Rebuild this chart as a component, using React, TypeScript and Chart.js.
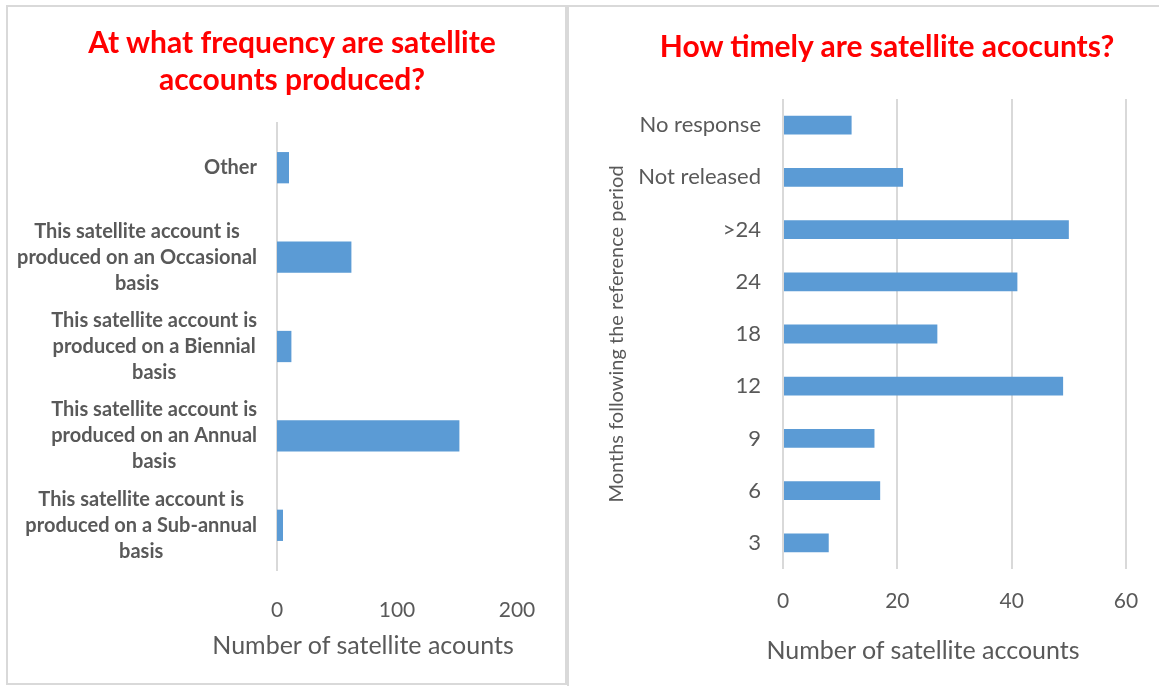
import React, { useEffect, useRef } from "react";
import { Chart, registerables } from "chart.js";

Chart.register(...registerables);

// ---------- data ----------
const freqCategories: string[][] = [
  ["Other"],
  ["This satellite account is", "produced on an Occasional", "basis"],
  ["This satellite account is", "produced on a Biennial", "basis"],
  ["This satellite account is", "produced on an Annual", "basis"],
  ["This satellite account is", "produced on a Sub-annual", "basis"],
];
const freqValues = [10, 62, 12, 152, 5];
const freqTicks = [0, 100, 200];

const timelyCategories = ["No response", "Not released", ">24", "24", "18", "12", "9", "6", "3"];
const timelyValues = [12, 21, 50, 41, 27, 49, 16, 17, 8];
const timelyTicks = [0, 20, 40, 60];

const FONT = "Lato";
const GREY = "#595959";
const BAR = "#5b9bd5";
const LINE = "#d9d9d9";

const centeredLabels = {
  id: "centeredLabels",
  afterDraw(chart: any) {
    const y = chart.scales.y;
    const ctx = chart.ctx;
    ctx.save();
    ctx.font = `bold 20px ${FONT}`;
    ctx.fillStyle = GREY;
    ctx.textAlign = "center";
    ctx.textBaseline = "middle";
    const right = chart.chartArea.left - 20;
    freqCategories.forEach((lines, i) => {
      const cy = y.getPixelForValue(i);
      const w = Math.max(...lines.map((l) => ctx.measureText(l).width));
      const cx = right - w / 2;
      lines.forEach((l, j) => ctx.fillText(l, cx, cy + (j - (lines.length - 1) / 2) * 26));
    });
    ctx.restore();
  },
};

function FreqChart() {
  const ref = useRef<HTMLCanvasElement>(null);
  useEffect(() => {
    const chart = new Chart(ref.current!, {
      type: "bar",
      data: {
        labels: freqCategories.map((l) => l.join(" ")),
        datasets: [
          {
            data: freqValues,
            backgroundColor: BAR,
            categoryPercentage: 1,
            barPercentage: 0.35,
          },
        ],
      },
      options: {
        indexAxis: "y",
        animation: false,
        responsive: false,
        maintainAspectRatio: false,
        layout: { padding: { top: 118, right: 49, left: 0, bottom: 0 } },
        plugins: { legend: { display: false }, tooltip: { enabled: false }, title: { display: false } },
        scales: {
          x: {
            min: 0,
            max: 200,
            afterBuildTicks: (s: any) => {
              s.ticks = freqTicks.map((v) => ({ value: v }));
            },
            grid: { display: false },
            border: { display: false },
            ticks: { color: GREY, font: { family: FONT, size: 21 }, padding: 20 },
            afterFit: (s: any) => {
              s.height = 114;
            },
          },
          y: {
            grid: { display: false },
            border: { display: true, color: LINE, width: 2 },
            ticks: { display: false },
            afterFit: (s: any) => {
              s.width = 271;
            },
          },
        },
      } as any,
      plugins: [centeredLabels],
    });
    return () => chart.destroy();
  }, []);
  return <canvas ref={ref} width={560} height={679} style={{ position: "absolute", left: 6, top: 5 }} />;
}

function TimelyChart() {
  const ref = useRef<HTMLCanvasElement>(null);
  useEffect(() => {
    const chart = new Chart(ref.current!, {
      type: "bar",
      data: {
        labels: timelyCategories,
        datasets: [
          {
            data: timelyValues,
            backgroundColor: BAR,
            categoryPercentage: 1,
            barPercentage: 0.36,
          },
        ],
      },
      options: {
        indexAxis: "y",
        animation: false,
        responsive: false,
        maintainAspectRatio: false,
        layout: { padding: { top: 94, right: 33, left: 0, bottom: 0 } },
        plugins: { legend: { display: false }, tooltip: { enabled: false }, title: { display: false } },
        scales: {
          x: {
            min: 0,
            max: 60,
            afterBuildTicks: (s: any) => {
              s.ticks = timelyTicks.map((v) => ({ value: v }));
            },
            grid: { display: true, color: LINE, lineWidth: 2, drawTicks: false },
            border: { display: false },
            ticks: { color: GREY, font: { family: FONT, size: 21 }, padding: 20 },
            afterFit: (s: any) => {
              s.height = 117;
            },
          },
          y: {
            grid: { display: false, drawTicks: false },
            border: { display: false },
            ticks: { color: GREY, font: { family: FONT, size: 22 }, padding: 22 },
            title: {
              display: true,
              text: "Months following the reference period",
              color: GREY,
              font: { family: FONT, size: 20 },
              padding: { top: 37, bottom: 0 },
            },
            afterFit: (s: any) => {
              s.width = 215;
            },
          },
        },
      } as any,
    });
    return () => chart.destroy();
  }, []);
  return <canvas ref={ref} width={591} height={681} style={{ position: "absolute", left: 568, top: 5 }} />;
}

const titleStyle: React.CSSProperties = {
  position: "absolute",
  fontFamily: FONT,
  fontWeight: "bold",
  fontSize: 30,
  lineHeight: "37px",
  color: "#ff0000",
  textAlign: "center",
  whiteSpace: "nowrap",
};

const axisTitleStyle: React.CSSProperties = {
  position: "absolute",
  fontFamily: FONT,
  fontSize: 25,
  lineHeight: "30px",
  color: GREY,
  textAlign: "center",
  whiteSpace: "nowrap",
};

export default function App() {
  return (
    <div
      style={{
        position: "fixed",
        left: 0,
        top: 0,
        width: 1159,
        height: 686,
        background: "#fff",
        overflow: "hidden",
      }}
    >
      <div
        style={{
          position: "absolute",
          left: 6,
          top: 5,
          width: 561,
          height: 680,
          boxSizing: "border-box",
          border: `2px solid ${LINE}`,
        }}
      />
      <div
        style={{
          position: "absolute",
          left: 567,
          top: 5,
          width: 620,
          height: 720,
          boxSizing: "border-box",
          border: `2px solid ${LINE}`,
        }}
      />
      <FreqChart />
      <TimelyChart />
      <div style={{ ...titleStyle, left: 0, width: 584, top: 23 }}>
        At what frequency are satellite
        <br />
        accounts produced?
      </div>
      <div style={{ ...titleStyle, left: 587, width: 600, top: 27 }}>How timely are satellite acocunts?</div>
      <div style={{ ...axisTitleStyle, left: 163, width: 400, top: 629 }}>Number of satellite acounts</div>
      <div style={{ ...axisTitleStyle, left: 723, width: 400, top: 634 }}>Number of satellite accounts</div>
    </div>
  );
}
